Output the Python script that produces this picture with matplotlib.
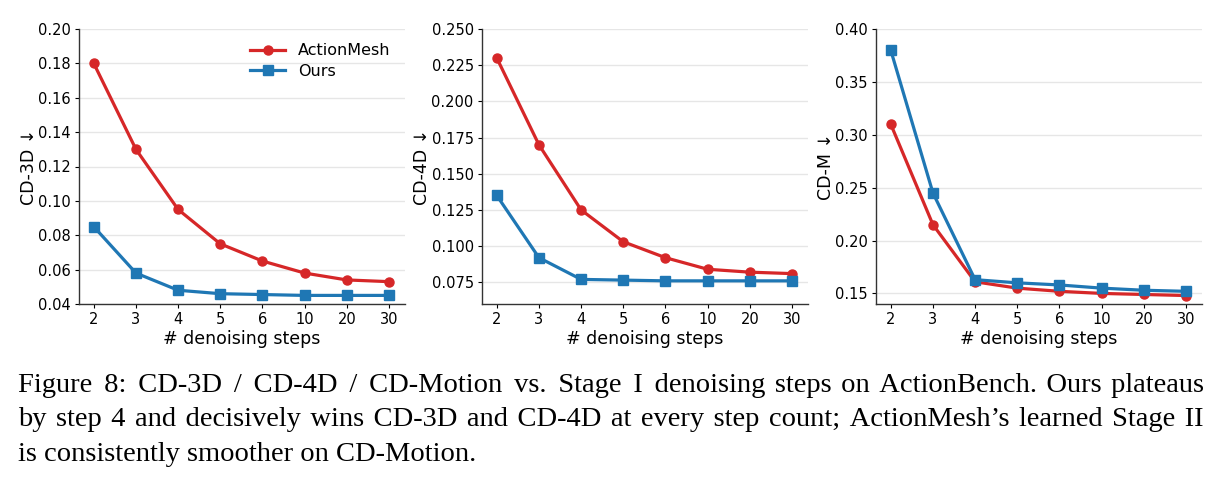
import matplotlib
matplotlib.use("Agg")
import matplotlib.pyplot as plt
import numpy as np

steps = ["2", "3", "4", "5", "6", "10", "20", "30"]

cd3d_actionmesh = [0.180, 0.130, 0.095, 0.075, 0.065, 0.058, 0.054, 0.053]
cd3d_ours = [0.085, 0.058, 0.048, 0.046, 0.0455, 0.045, 0.045, 0.045]

cd4d_actionmesh = [0.230, 0.170, 0.125, 0.103, 0.092, 0.084, 0.082, 0.081]
cd4d_ours = [0.135, 0.092, 0.077, 0.0765, 0.076, 0.076, 0.076, 0.076]

cdm_actionmesh = [0.310, 0.215, 0.161, 0.155, 0.152, 0.150, 0.149, 0.148]
cdm_ours = [0.380, 0.245, 0.163, 0.160, 0.158, 0.155, 0.153, 0.152]

panels = [
    ("CD-3D \u2193", cd3d_actionmesh, cd3d_ours, (0.04, 0.20), np.arange(0.04, 0.2001, 0.02), "{:.2f}"),
    ("CD-4D \u2193", cd4d_actionmesh, cd4d_ours, (0.06, 0.25), np.arange(0.075, 0.2501, 0.025), "{:.3f}"),
    ("CD-M \u2193", cdm_actionmesh, cdm_ours, (0.14, 0.40), np.arange(0.15, 0.4001, 0.05), "{:.2f}"),
]

caption = [
    "Figure 8: CD-3D / CD-4D / CD-Motion vs. Stage I denoising steps on ActionBench. Ours plateaus",
    "by step 4 and decisively wins CD-3D and CD-4D at every step count; ActionMesh\u2019s learned Stage II",
    "is consistently smoother on CD-Motion.",
]

red = "#d62728"
blue = "#1f77b4"

W, H = 1221, 483
fig = plt.figure(figsize=(W / 100, H / 100), dpi=100)

lefts = [79, 482, 876]
for i, (ylabel, am, ours, ylim, yticks, fmt) in enumerate(panels):
    ax = fig.add_axes([lefts[i] / W, (H - 304) / H, 326 / W, 275 / H])
    x = np.arange(len(steps))
    ax.plot(x, am, color=red, marker="o", lw=2.3, ms=6.5, label="ActionMesh", zorder=3)
    ax.plot(x, ours, color=blue, marker="s", lw=2.3, ms=6.5, label="Ours", zorder=3)
    ax.set_xlim(-0.35, 7.38)
    ax.set_ylim(*ylim)
    ax.set_xticks(x)
    ax.set_xticklabels(steps)
    ax.set_yticks(yticks)
    ax.set_yticklabels([fmt.format(v) for v in yticks])
    ax.tick_params(labelsize=10.5, length=3, width=0.8, pad=3)
    ax.yaxis.grid(True, color="#e6e6e6", lw=1.0, zorder=0)
    ax.set_axisbelow(True)
    for s in ["top", "right"]:
        ax.spines[s].set_visible(False)
    for s in ["left", "bottom"]:
        ax.spines[s].set_color("#333333")
        ax.spines[s].set_linewidth(1.0)
    ax.set_xlabel("# denoising steps", fontsize=12.5, labelpad=2)
    ax.set_ylabel(ylabel, fontsize=12.5, labelpad=0)
    if i == 0:
        ax.legend(loc="upper right", fontsize=11.5, frameon=False, handlelength=2.2,
                  labelspacing=0.35, bbox_to_anchor=(1.0, 1.0))

# caption: one text per line; first two lines justified by adding hair spaces
renderer = fig.canvas.get_renderer()
fs = 20.5
fam = "Liberation Serif"
x_left, x_right = 18, 1202
baselines = [392, 426.5, 461]


def width_of(s):
    t = fig.text(0, 0, s, fontsize=fs, family=fam)
    w = t.get_window_extent(renderer).width
    t.remove()
    return w


hair = "\u200a"
hair_w = width_of("a" + hair * 10 + "a") - width_of("aa")
hair_w /= 10.0

for j, line in enumerate(caption):
    yb = 1 - baselines[j] / H
    s = line
    if j < len(caption) - 1 and hair_w > 0:
        words = line.split(" ")
        deficit = (x_right - x_left) - width_of(line)
        n = max(0, int(round(deficit / hair_w)))
        gaps = len(words) - 1
        base, extra = divmod(n, gaps)
        parts = [words[0]]
        for k in range(gaps):
            parts.append(" " + hair * (base + (1 if k < extra else 0)) + words[k + 1])
        s = "".join(parts)
    fig.text(x_left / W, yb, s, fontsize=fs, family=fam, ha="left", va="baseline")

fig.savefig("out.png", dpi=100)
